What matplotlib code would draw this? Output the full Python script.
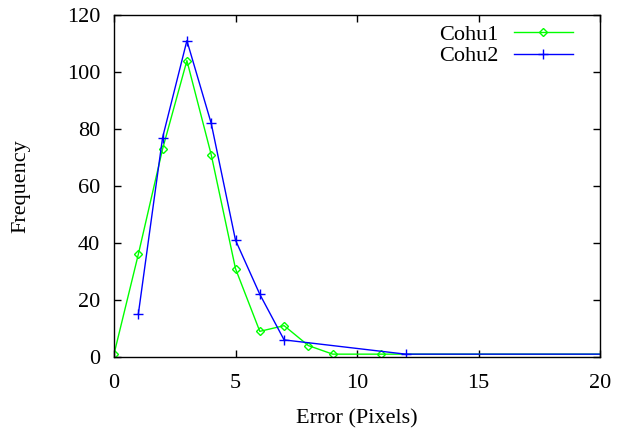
import matplotlib
matplotlib.use('Agg')
import matplotlib.pyplot as plt

# Fehlerverteilung (Pixel) fuer zwei Kameras
cohu1_x = [0, 1, 2, 3, 4, 5, 6, 7, 8, 9, 11, 20]
cohu1_y = [1, 36, 73, 104, 71, 31, 9, 11, 4, 1, 1, 1]
cohu2_x = [1, 2, 3, 4, 5, 6, 7, 12, 20]
cohu2_y = [15, 77, 111, 82, 41, 22, 6, 1, 1]

x_ticks = [0, 5, 10, 15, 20]
y_ticks = [0, 20, 40, 60, 80, 100, 120]

plt.rcParams['font.family'] = ['Liberation Serif', 'DejaVu Serif']
plt.rcParams['font.size'] = 16

fig = plt.figure(figsize=(6.24, 4.28), dpi=100)
ax = fig.add_axes([114 / 624, 1 - 357 / 428, 486 / 624, 342 / 428])

# letzter Punkt (Rand bei 20) ohne Marker
ax.plot(cohu1_x, cohu1_y, color='#00ff00', lw=1, marker='D', ms=4,
        mfc='none', mec='#00ff00', mew=1, markevery=list(range(len(cohu1_x) - 1)),
        label='Cohu1')
ax.plot(cohu2_x, cohu2_y, color='#0000ff', lw=1, marker='+', ms=7,
        mew=1, markevery=list(range(len(cohu2_x) - 1)), label='Cohu2')

ax.set_xlim(0, 20)
ax.set_ylim(0, 120)
ax.set_xticks(x_ticks)
ax.set_yticks(y_ticks)
ax.tick_params(direction='in', top=True, right=True, length=5, width=1)
ax.tick_params(axis='y', pad=10)
ax.tick_params(axis='x', pad=12)
for s in ax.spines.values():
    s.set_linewidth(1)

ax.set_xlabel('Error (Pixels)', labelpad=12)
ax.set_ylabel('Frequency', labelpad=26)

ax.legend(loc='upper right', bbox_to_anchor=(0.944, 0.973), frameon=False,
          markerfirst=False, handlelength=2.66, borderaxespad=0, borderpad=0,
          labelspacing=0.05, handletextpad=0.7)

fig.savefig('out.png', dpi=100)
